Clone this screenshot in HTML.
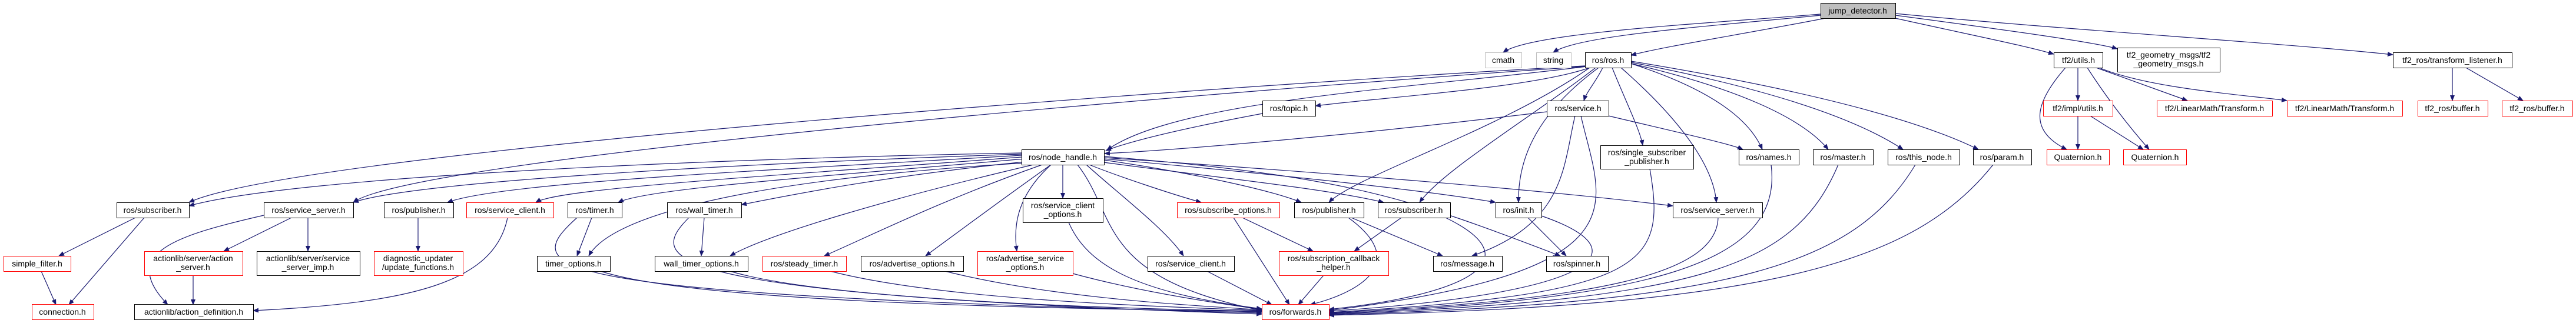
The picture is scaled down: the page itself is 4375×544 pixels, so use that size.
<!DOCTYPE html>
<html><head><meta charset="utf-8"><style>
html,body{margin:0;padding:0;background:#fff;}
svg{display:block;}
text{font-family:"Liberation Sans",Arial,sans-serif;font-size:14px;fill:#000;text-anchor:middle;}
.e{fill:none;stroke:#191970;stroke-width:1.2;marker-end:url(#a);}
.b{fill:#fff;stroke:#000;stroke-width:1;}
.r{fill:#fff;stroke:#ff0000;stroke-width:1;}
.g{fill:#fff;stroke:#bfbfbf;stroke-width:1;}
</style></head><body>
<svg width="4375" height="544" viewBox="0 0 4375 544" xmlns="http://www.w3.org/2000/svg">
<defs><marker id="a" markerWidth="10" markerHeight="8" refX="9" refY="4" orient="auto" markerUnits="userSpaceOnUse"><path d="M0,0 L10,4 L0,8z" fill="#191970"/></marker></defs>
<g>
<path class="e" d="M3092,24 C2900,40 2600,55 2553,89"/>
<path class="e" d="M3092,26 C2900,45 2680,60 2638,89"/>
<path class="e" d="M3100,31 C2950,60 2820,80 2770,94"/>
<path class="e" d="M3219,31 C3350,60 3450,80 3488,92"/>
<path class="e" d="M3219,26 C3400,50 3560,72 3596,83"/>
<path class="e" d="M3219,23 C3500,50 3900,75 4064,93"/>
<path class="e" d="M2700,115 C2600,150 2350,165 2234,180"/>
<path class="e" d="M2695,113 C2400,150 2000,170 1880,255"/>
<path class="e" d="M2692,112 C2000,150 500,260 321,344"/>
<path class="e" d="M2692,113 C2000,160 700,270 600,344"/>
<path class="e" d="M2722,115 C2710,140 2695,155 2690,171"/>
<path class="e" d="M2700,115 C2550,220 2300,300 2257,344"/>
<path class="e" d="M2710,115 C2600,200 2450,290 2411,344"/>
<path class="e" d="M2715,115 C2600,200 2578,280 2579,344"/>
<path class="e" d="M2738,115 C2760,170 2785,220 2790,247"/>
<path class="e" d="M2753,115 C2850,200 2910,280 2915,344"/>
<path class="e" d="M2770,108 C2900,150 2970,200 2993,254"/>
<path class="e" d="M2770,108 C2950,150 3060,200 3105,254"/>
<path class="e" d="M2770,106 C3000,150 3150,200 3232,254"/>
<path class="e" d="M2770,104 C3050,150 3250,200 3360,254"/>
<path class="e" d="M2144,193 C2000,220 1920,240 1878,256"/>
<path class="e" d="M2627,190 C2300,230 2000,255 1876,261"/>
<path class="e" d="M2732,197 C2850,225 2940,245 2960,254"/>
<path class="e" d="M2675,197 C2655,280 2660,380 2500,435"/>
<path class="e" d="M2685,197 C2720,350 2800,460 2257,528"/>
<path class="e" d="M1735,260 C1200,270 500,300 321,350"/>
<path class="e" d="M1735,262 C1200,280 700,310 600,344"/>
<path class="e" d="M1735,264 C1300,290 850,310 760,344"/>
<path class="e" d="M1735,267 C1300,300 950,320 910,344"/>
<path class="e" d="M1740,270 C1400,300 1100,320 1050,344"/>
<path class="e" d="M1740,275 C1500,300 1350,330 1259,348"/>
<path class="e" d="M1740,277 C1200,310 1030,380 1000,435"/>
<path class="e" d="M1755,280 C1500,340 1300,400 1240,435"/>
<path class="e" d="M1770,280 C1600,340 1480,400 1400,435"/>
<path class="e" d="M1785,280 C1700,340 1620,400 1572,435"/>
<path class="e" d="M1785,280 C1730,330 1720,380 1727,427"/>
<path class="e" d="M1805,280 L1805,337"/>
<path class="e" d="M1830,280 C1900,370 1860,470 2143,528"/>
<path class="e" d="M1845,280 C1900,330 1980,390 2010,435"/>
<path class="e" d="M1850,280 C1900,300 1990,330 2040,344"/>
<path class="e" d="M1875,272 C2000,290 2150,320 2210,344"/>
<path class="e" d="M1875,276 C2050,300 2250,320 2350,344"/>
<path class="e" d="M1875,270 C2100,290 2400,320 2540,344"/>
<path class="e" d="M1875,268 C2200,290 2600,320 2841,350"/>
<path class="e" d="M1875,266 C2300,300 2400,340 2650,435"/>
<path class="e" d="M230,370 L100,435"/>
<path class="e" d="M245,370 L117,518"/>
<path class="e" d="M70,461 L95,518"/>
<path class="e" d="M495,370 L380,427"/>
<path class="e" d="M523,370 L523,427"/>
<path class="e" d="M448,366 C300,400 200,430 285,518"/>
<path class="e" d="M328,468 L328,518"/>
<path class="e" d="M710,370 L710,427"/>
<path class="e" d="M862,370 C840,480 700,515 430,528"/>
<path class="e" d="M1005,370 L980,435"/>
<path class="e" d="M980,370 C880,460 900,500 2143,532"/>
<path class="e" d="M1196,370 L1191,435"/>
<path class="e" d="M1170,370 C1100,440 1100,500 2143,534"/>
<path class="e" d="M1020,461 C1200,520 1900,525 2143,530"/>
<path class="e" d="M1240,461 C1400,510 1900,525 2143,529"/>
<path class="e" d="M1410,461 C1600,510 1950,520 2143,528"/>
<path class="e" d="M1605,461 C1800,510 2050,520 2143,527"/>
<path class="e" d="M1822,465 C1950,500 2100,520 2143,526"/>
<path class="e" d="M1815,378 C1850,460 1950,500 2143,525"/>
<path class="e" d="M2050,461 L2160,518"/>
<path class="e" d="M2095,370 L2190,518"/>
<path class="e" d="M2110,370 L2230,427"/>
<path class="e" d="M2248,468 L2205,518"/>
<path class="e" d="M2295,370 L2450,435"/>
<path class="e" d="M2290,370 C2400,450 2300,500 2225,518"/>
<path class="e" d="M2380,370 L2300,427"/>
<path class="e" d="M2455,370 C2600,440 2500,500 2257,526"/>
<path class="e" d="M2595,370 L2660,435"/>
<path class="e" d="M2618,367 C2800,430 2700,500 2257,529"/>
<path class="e" d="M2802,287 C2830,450 2800,500 2257,531"/>
<path class="e" d="M2918,370 C2915,470 2700,510 2257,532"/>
<path class="e" d="M3008,280 C3030,450 2800,510 2257,533"/>
<path class="e" d="M3122,280 C3050,450 2900,510 2257,534"/>
<path class="e" d="M3253,280 C3150,450 2950,515 2257,535"/>
<path class="e" d="M3385,280 C3250,450 3000,520 2257,536"/>
<path class="e" d="M3529,115 L3529,171"/>
<path class="e" d="M3508,115 C3460,170 3440,220 3510,254"/>
<path class="e" d="M3545,115 C3580,170 3620,220 3650,254"/>
<path class="e" d="M3560,115 L3715,171"/>
<path class="e" d="M3565,115 C3650,150 3800,160 3884,171"/>
<path class="e" d="M3529,197 L3529,254"/>
<path class="e" d="M3550,197 L3640,254"/>
<path class="e" d="M4165,115 L4165,171"/>
<path class="e" d="M4188,115 L4285,171"/>
</g>
<g>
<rect x="3092.5" y="5.5" width="127" height="26" fill="#bfbfbf" stroke="#000"/><text x="3155" y="23">jump_detector.h</text>
<rect class="g" x="2522.5" y="89.5" width="62" height="26"/><text x="2553" y="107">cmath</text>
<rect class="g" x="2609.5" y="89.5" width="59" height="26"/><text x="2638" y="107">string</text>
<rect class="b" x="2692.5" y="89.5" width="78" height="26"/><text x="2731" y="107">ros/ros.h</text>
<rect class="b" x="3488.5" y="89.5" width="83" height="26"/><text x="3530" y="107">tf2/utils.h</text>
<rect class="b" x="3596.5" y="81.5" width="174" height="41"/><text x="3683" y="98">tf2_geometry_msgs/tf2</text><text x="3683" y="113">_geometry_msgs.h</text>
<rect class="b" x="4064.5" y="89.5" width="202" height="26"/><text x="4165" y="107">tf2_ros/transform_listener.h</text>
<rect class="b" x="2144.5" y="171.5" width="90" height="26"/><text x="2189" y="189">ros/topic.h</text>
<rect class="b" x="2627.5" y="171.5" width="105" height="26"/><text x="2680" y="189">ros/service.h</text>
<rect class="r" x="3470.5" y="171.5" width="118" height="26"/><text x="3529" y="189">tf2/impl/utils.h</text>
<rect class="r" x="3663.5" y="171.5" width="196" height="26"/><text x="3761" y="189">tf2/LinearMath/Transform.h</text>
<rect class="r" x="3884.5" y="171.5" width="196" height="26"/><text x="3982" y="189">tf2/LinearMath/Transform.h</text>
<rect class="r" x="4106.5" y="171.5" width="119" height="26"/><text x="4165" y="189">tf2_ros/buffer.h</text>
<rect class="r" x="4249.5" y="171.5" width="120" height="26"/><text x="4309" y="189">tf2_ros/buffer.h</text>
<rect class="b" x="1735.5" y="254.5" width="140" height="26"/><text x="1805" y="272">ros/node_handle.h</text>
<rect class="b" x="2718.5" y="247.5" width="158" height="40"/><text x="2797" y="264">ros/single_subscriber</text><text x="2797" y="279">_publisher.h</text>
<rect class="b" x="2953.5" y="254.5" width="102" height="26"/><text x="3004" y="272">ros/names.h</text>
<rect class="b" x="3079.5" y="254.5" width="102" height="26"/><text x="3130" y="272">ros/master.h</text>
<rect class="b" x="3206.5" y="254.5" width="122" height="26"/><text x="3267" y="272">ros/this_node.h</text>
<rect class="b" x="3351.5" y="254.5" width="99" height="26"/><text x="3400" y="272">ros/param.h</text>
<rect class="r" x="3476.5" y="254.5" width="106" height="26"/><text x="3529" y="272">Quaternion.h</text>
<rect class="r" x="3606.5" y="254.5" width="107" height="26"/><text x="3660" y="272">Quaternion.h</text>
<rect class="b" x="198.5" y="344.5" width="123" height="26"/><text x="259" y="362">ros/subscriber.h</text>
<rect class="b" x="448.5" y="344.5" width="152" height="26"/><text x="524" y="362">ros/service_server.h</text>
<rect class="b" x="652.5" y="344.5" width="118" height="26"/><text x="711" y="362">ros/publisher.h</text>
<rect class="r" x="792.5" y="344.5" width="148" height="26"/><text x="866" y="362">ros/service_client.h</text>
<rect class="b" x="964.5" y="344.5" width="92" height="26"/><text x="1010" y="362">ros/timer.h</text>
<rect class="b" x="1133.5" y="344.5" width="126" height="26"/><text x="1196" y="362">ros/wall_timer.h</text>
<rect class="b" x="1737.5" y="337.5" width="136" height="41"/><text x="1805" y="354">ros/service_client</text><text x="1805" y="369">_options.h</text>
<rect class="r" x="1999.5" y="344.5" width="174" height="26"/><text x="2086" y="362">ros/subscribe_options.h</text>
<rect class="b" x="2198.5" y="344.5" width="118" height="26"/><text x="2257" y="362">ros/publisher.h</text>
<rect class="b" x="2340.5" y="344.5" width="123" height="26"/><text x="2401" y="362">ros/subscriber.h</text>
<rect class="b" x="2540.5" y="344.5" width="78" height="26"/><text x="2579" y="362">ros/init.h</text>
<rect class="b" x="2841.5" y="344.5" width="152" height="26"/><text x="2917" y="362">ros/service_server.h</text>
<rect class="r" x="6.5" y="435.5" width="114" height="26"/><text x="63" y="453">simple_filter.h</text>
<rect class="r" x="245.5" y="427.5" width="167" height="41"/><text x="328" y="444">actionlib/server/action</text><text x="328" y="459">_server.h</text>
<rect class="b" x="436.5" y="427.5" width="175" height="41"/><text x="523" y="444">actionlib/server/service</text><text x="523" y="459">_server_imp.h</text>
<rect class="r" x="635.5" y="427.5" width="151" height="41"/><text x="710" y="444">diagnostic_updater</text><text x="710" y="459">/update_functions.h</text>
<rect class="b" x="912.5" y="435.5" width="124" height="26"/><text x="974" y="453">timer_options.h</text>
<rect class="b" x="1112.5" y="435.5" width="158" height="26"/><text x="1191" y="453">wall_timer_options.h</text>
<rect class="r" x="1295.5" y="435.5" width="142" height="26"/><text x="1366" y="453">ros/steady_timer.h</text>
<rect class="b" x="1462.5" y="435.5" width="174" height="26"/><text x="1549" y="453">ros/advertise_options.h</text>
<rect class="r" x="1660.5" y="427.5" width="162" height="41"/><text x="1741" y="444">ros/advertise_service</text><text x="1741" y="459">_options.h</text>
<rect class="b" x="1949.5" y="435.5" width="147" height="26"/><text x="2022" y="453">ros/service_client.h</text>
<rect class="r" x="2172.5" y="427.5" width="186" height="41"/><text x="2265" y="444">ros/subscription_callback</text><text x="2265" y="459">_helper.h</text>
<rect class="b" x="2434.5" y="435.5" width="117" height="26"/><text x="2492" y="453">ros/message.h</text>
<rect class="b" x="2626.5" y="435.5" width="105" height="26"/><text x="2678" y="453">ros/spinner.h</text>
<rect class="r" x="54.5" y="517.5" width="105" height="26"/><text x="106" y="535">connection.h</text>
<rect class="b" x="228.5" y="517.5" width="202" height="26"/><text x="329" y="535">actionlib/action_definition.h</text>
<rect class="r" x="2143.5" y="517.5" width="114" height="26"/><text x="2200" y="535">ros/forwards.h</text>
</g>
</svg>
</body></html>
